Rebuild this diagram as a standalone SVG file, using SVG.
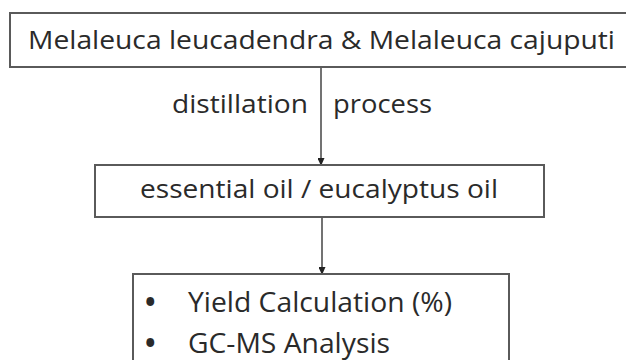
<svg xmlns="http://www.w3.org/2000/svg" width="626" height="360" viewBox="0 0 626 360">
<defs>
<style>
.box{fill:#fff;stroke:#5a5a5a;stroke-width:2}
.t{font-family:"Open Sans","Liberation Sans",sans-serif;font-size:25px;fill:#2a2a2a}
.b{font-size:28px}
.c{stroke:#444;stroke-width:1.5;fill:none}
</style>
<marker id="ah" markerWidth="8" markerHeight="7" refX="7" refY="3.5" orient="auto" markerUnits="userSpaceOnUse">
<path d="M0,0 L8,3.5 L0,7 Z" fill="#222"/>
</marker>
</defs>
<rect width="626" height="360" fill="#fff"/>
<g id="connectors">
<line class="c" x1="321" y1="67" x2="321" y2="165" marker-end="url(#ah)"/>
<line class="c" x1="322" y1="217" x2="322" y2="274" marker-end="url(#ah)"/>
<text class="t" x="172" y="113" textLength="136" lengthAdjust="spacingAndGlyphs">distillation</text>
<text class="t" x="333" y="113" textLength="99" lengthAdjust="spacingAndGlyphs">process</text>
</g>
<g id="node-source">
<rect class="box" x="10" y="13" width="622" height="54"/>
<text class="t" x="28" y="49" textLength="587" lengthAdjust="spacingAndGlyphs">Melaleuca leucadendra &amp; Melaleuca cajuputi</text>
</g>
<g id="node-oil">
<rect class="box" x="95" y="165" width="449" height="52"/>
<text class="t" x="140" y="198" textLength="358" lengthAdjust="spacingAndGlyphs">essential oil / eucalyptus oil</text>
</g>
<g id="node-analysis">
<rect class="box" x="133" y="274" width="376" height="100"/>
<text class="t b" x="145" y="312" font-weight="bold">•</text>
<text class="t b" x="188" y="312" textLength="264" lengthAdjust="spacingAndGlyphs">Yield Calculation (%)</text>
<text class="t b" x="145" y="353" font-weight="bold">•</text>
<text class="t b" x="188" y="353" textLength="202" lengthAdjust="spacingAndGlyphs">GC-MS Analysis</text>
</g>
</svg>
